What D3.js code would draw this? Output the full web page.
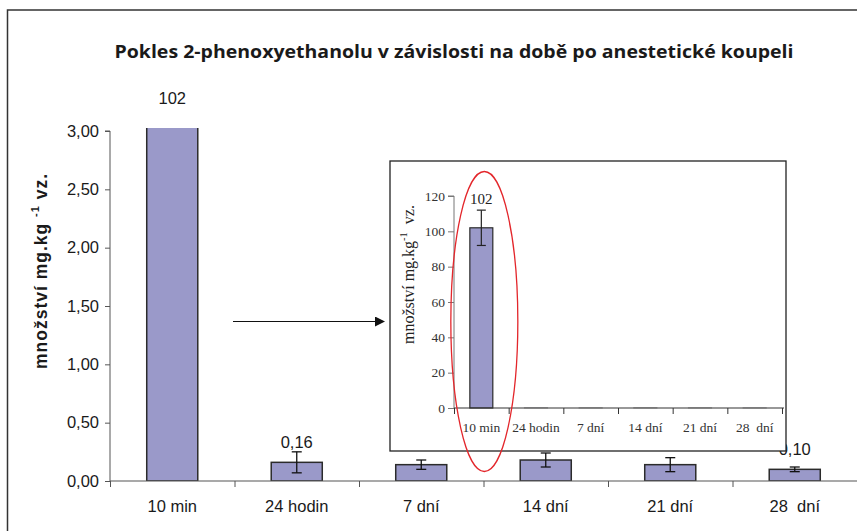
<!DOCTYPE html>
<html>
<head>
<meta charset="utf-8">
<script src="https://cdn.jsdelivr.net/npm/d3@7"></script>
<style>
  html, body { margin: 0; padding: 0; background: #fff; }
  svg { display: block; }
</style>
</head>
<body>
<div id="chart"></div>
<script>
// --- data
const categories = ['10 min', '24 hodin', '7 dní', '14 dní', '21 dní', '28  dní'];
const means = [102, 0.16, 0.14, 0.18, 0.14, 0.10];
const errors = [10, 0.09, 0.04, 0.06, 0.06, 0.02];
// value labels that are not hidden behind the inset
const labelled = ['10 min', '24 hodin', '28  dní'];
const mainTicks = [0, 0.5, 1, 1.5, 2, 2.5, 3];
const insetTicks = [0, 20, 40, 60, 80, 100, 120];
const title = 'Pokles 2-phenoxyethanolu v závislosti na době po anestetické koupeli';

const width = 857, height = 531;
const barFill = '#9a99c9', barStroke = '#2b2b2b', ink = '#1a1a1a';
const comma = v => d3.format('.2f')(v).replace('.', ',');
const data = categories.map((c, i) => ({cat: c, i, v: means[i], e: errors[i]}));

const svg = d3.select('#chart').append('svg')
    .attr('width', width).attr('height', height)
    .attr('viewBox', `0 0 ${width} ${height}`);

// outer frame (runs off the right and bottom edge)
svg.append('rect')
    .attr('x', 7.5).attr('y', 10).attr('width', width + 10).attr('height', height + 10)
    .attr('fill', 'none').attr('stroke', '#333').attr('stroke-width', 1.5);

svg.append('text')
    .attr('x', 454).attr('y', 58).attr('text-anchor', 'middle')
    .attr('font-family', 'Open Sans, sans-serif').attr('font-weight', 700)
    .attr('font-size', 17.5).attr('fill', ink)
    .attr('textLength', 679).attr('lengthAdjust', 'spacingAndGlyphs')
    .text(title);

// --- 1. main chart
const mx = d3.scaleBand().domain(categories).range([110, 857])
    .paddingInner(0.59).paddingOuter(0.295);
const mIdx = d3.scaleLinear().domain([0, categories.length]).range([110, 857]);
const my = d3.scaleLinear().domain([0, 3]).range([481, 131]);
const mainFont = 'Liberation Sans, Arial, sans-serif';

svg.append('defs').append('clipPath').attr('id', 'plotclip')
    .append('rect').attr('x', 110).attr('y', my(3) - 3).attr('width', 760).attr('height', my(0) - my(3) + 3);

const gy = svg.append('g').attr('transform', 'translate(110,0)')
    .call(d3.axisLeft(my).tickValues(mainTicks).tickFormat(comma).tickSize(5).tickPadding(6));
gy.select('.domain').attr('stroke', '#555').attr('stroke-width', 1).attr('d', `M-5,${my(3)}H0V${my(0)}`);
gy.selectAll('.tick line').attr('stroke', '#555');
gy.selectAll('.tick text').attr('font-family', mainFont).attr('font-size', 16.5).attr('fill', ink);

const bars = svg.append('g').attr('clip-path', 'url(#plotclip)');
bars.selectAll('rect').data(data).join('rect')
    .attr('x', d => mx(d.cat)).attr('width', mx.bandwidth())
    .attr('y', d => my(d.v)).attr('height', d => my(0) - my(d.v))
    .attr('fill', barFill).attr('stroke', barStroke).attr('stroke-width', 1.5);

const errG = bars.selectAll('g.err').data(data).join('g').attr('class', 'err')
    .attr('stroke', '#111').attr('stroke-width', 1.3);
errG.append('line')
    .attr('x1', d => mx(d.cat) + mx.bandwidth() / 2).attr('x2', d => mx(d.cat) + mx.bandwidth() / 2)
    .attr('y1', d => my(d.v + d.e)).attr('y2', d => my(d.v - d.e));
[1, -1].forEach(s => errG.append('line')
    .attr('x1', d => mx(d.cat) + mx.bandwidth() / 2 - 5).attr('x2', d => mx(d.cat) + mx.bandwidth() / 2 + 5)
    .attr('y1', d => my(d.v + s * d.e)).attr('y2', d => my(d.v + s * d.e)));

svg.append('g').selectAll('text').data(data.filter(d => labelled.includes(d.cat))).join('text')
    .attr('x', d => mx(d.cat) + mx.bandwidth() / 2)
    .attr('y', d => d.v > 3 ? my(3) - 27 : my(d.v) - 14)
    .attr('text-anchor', 'middle').attr('font-family', mainFont).attr('font-size', 16.5).attr('fill', ink)
    .text(d => d.v > 3 ? d3.format('d')(d.v) : comma(d.v));

const gx = svg.append('g').attr('transform', `translate(0,${my(0)})`)
    .call(d3.axisBottom(mIdx).tickValues(d3.range(categories.length + 1)).tickFormat('').tickSize(6));
gx.select('.domain').attr('stroke', '#555').attr('stroke-width', 1.2).attr('d', `M110,0H857`);
gx.selectAll('.tick line').attr('stroke', '#555');
svg.append('g').selectAll('text').data(categories).join('text')
    .attr('x', d => mx(d) + mx.bandwidth() / 2).attr('y', my(0) + 31)
    .attr('text-anchor', 'middle').attr('font-family', mainFont).attr('font-size', 16.5).attr('fill', ink)
    .attr('xml:space', 'preserve').style('white-space', 'pre')
    .text(d => d);

const ylab = svg.append('text')
    .attr('transform', `translate(47,${271}) rotate(-90)`)
    .attr('text-anchor', 'middle').attr('font-family', mainFont).attr('font-weight', 700)
    .attr('font-size', 17.5).attr('letter-spacing', 1).attr('fill', ink)
    .attr('xml:space', 'preserve').style('white-space', 'pre');
ylab.append('tspan').text('množství mg.kg ');
ylab.append('tspan').attr('dy', -8).attr('font-size', 11).text('-1');
ylab.append('tspan').attr('dy', 8).text(' vz.');

// --- 2. arrow
svg.append('defs').append('marker').attr('id', 'head')
    .attr('viewBox', '0 0 10 10').attr('refX', 9).attr('refY', 5)
    .attr('markerWidth', 10).attr('markerHeight', 10).attr('markerUnits', 'userSpaceOnUse')
    .attr('orient', 'auto')
    .append('path').attr('d', 'M0,0L10,5L0,10Z').attr('fill', '#111');
svg.append('line').attr('x1', 233).attr('x2', 384).attr('y1', 321.5).attr('y2', 321.5)
    .attr('stroke', '#111').attr('stroke-width', 1.2).attr('marker-end', 'url(#head)');

// --- 3. inset chart
const serif = 'Liberation Serif, Times New Roman, serif';
svg.append('rect').attr('x', 390).attr('y', 161).attr('width', 396).attr('height', 290)
    .attr('fill', '#fff').attr('stroke', '#222').attr('stroke-width', 1.3);

const ix = d3.scaleBand().domain(categories).range([454, 782])
    .paddingInner(0.58).paddingOuter(0.29);
const iIdx = d3.scaleLinear().domain([0, categories.length]).range([454, 782]);
const iy = d3.scaleLinear().domain([0, 120]).range([408, 196]);

const igy = svg.append('g').attr('transform', 'translate(454,0)')
    .call(d3.axisLeft(iy).tickValues(insetTicks).tickSize(6).tickPadding(3));
igy.select('.domain').attr('stroke', '#777').attr('stroke-width', 1).attr('d', `M-6,${iy(120)}H0V${iy(0)}`);
igy.selectAll('.tick line').attr('stroke', '#777');
igy.selectAll('.tick text').attr('font-family', serif).attr('font-size', 13.5).attr('fill', '#333');

svg.append('g').selectAll('rect').data(data).join('rect')
    .attr('x', d => ix(d.cat)).attr('width', ix.bandwidth())
    .attr('y', d => iy(d.v)).attr('height', d => iy(0) - iy(d.v))
    .attr('fill', barFill).attr('stroke', d => d.v > 1 ? barStroke : '#bbb').attr('stroke-width', 1.2);

const iErr = svg.append('g').selectAll('g').data(data.filter(d => d.v > 1)).join('g')
    .attr('stroke', '#222').attr('stroke-width', 1.2);
iErr.append('line')
    .attr('x1', d => ix(d.cat) + ix.bandwidth() / 2).attr('x2', d => ix(d.cat) + ix.bandwidth() / 2)
    .attr('y1', d => iy(d.v + d.e)).attr('y2', d => iy(d.v - d.e));
[1, -1].forEach(s => iErr.append('line')
    .attr('x1', d => ix(d.cat) + ix.bandwidth() / 2 - 4.5).attr('x2', d => ix(d.cat) + ix.bandwidth() / 2 + 4.5)
    .attr('y1', d => iy(d.v + s * d.e)).attr('y2', d => iy(d.v + s * d.e)));

svg.append('g').selectAll('text').data(data.filter(d => d.v > 1)).join('text')
    .attr('x', d => ix(d.cat) + ix.bandwidth() / 2).attr('y', d => iy(d.v + d.e) - 6)
    .attr('text-anchor', 'middle').attr('font-family', serif).attr('font-size', 15).attr('fill', '#222')
    .text(d => d3.format('d')(d.v));

const igx = svg.append('g').attr('transform', `translate(0,${iy(0)})`)
    .call(d3.axisBottom(iIdx).tickValues(d3.range(categories.length + 1)).tickFormat('').tickSize(6));
igx.select('.domain').attr('stroke', '#333').attr('stroke-width', 1.2).attr('d', `M454,0H784`);
igx.selectAll('.tick line').attr('stroke', '#333');
svg.append('g').selectAll('text').data(categories).join('text')
    .attr('x', d => ix(d) + ix.bandwidth() / 2).attr('y', iy(0) + 24)
    .attr('text-anchor', 'middle').attr('font-family', serif).attr('font-size', 13.5).attr('fill', '#333')
    .attr('xml:space', 'preserve').style('white-space', 'pre')
    .text(d => d);

const iylab = svg.append('text')
    .attr('transform', `translate(414,${274.5}) rotate(-90)`)
    .attr('text-anchor', 'middle').attr('font-family', serif)
    .attr('font-size', 16).attr('fill', '#222')
    .attr('xml:space', 'preserve').style('white-space', 'pre');
iylab.append('tspan').text('množství mg.kg');
iylab.append('tspan').attr('dy', -7).attr('font-size', 10.5).text('-1');
iylab.append('tspan').attr('dy', 7).text('  vz.');

// --- 4. red ellipse around the first inset bar
svg.append('ellipse')
    .attr('cx', ix(categories[0]) + ix.bandwidth() / 2 + 3).attr('cy', 321.5)
    .attr('rx', 33.5).attr('ry', 150)
    .attr('fill', 'none').attr('stroke', '#e3262b').attr('stroke-width', 1.3);
</script>
</body>
</html>
